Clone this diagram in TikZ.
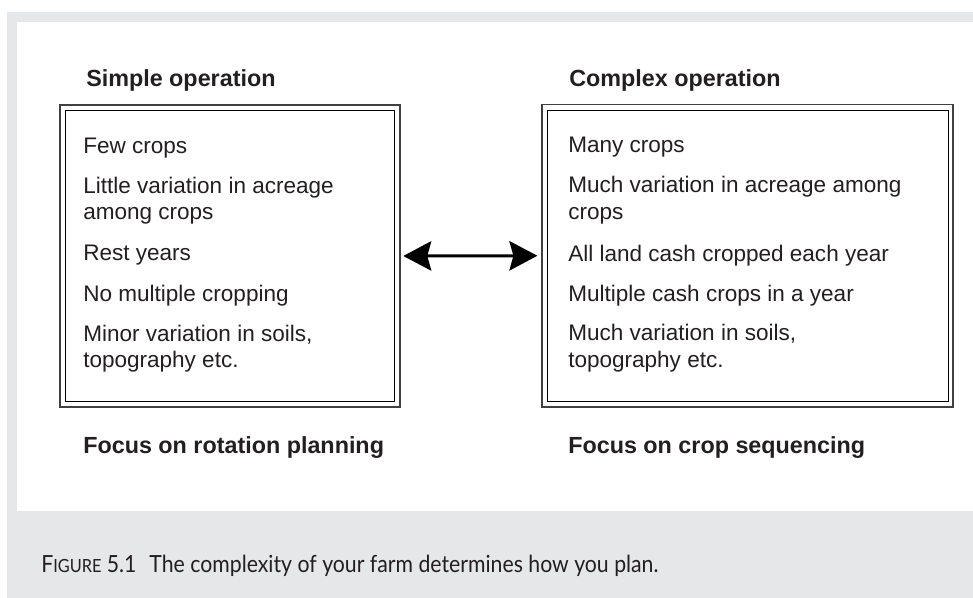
\documentclass[tikz,border=0pt]{standalone}
\usepackage{fontspec}
\setmainfont{Liberation Sans}
\newfontfamily\capfont{Lato}[FakeStretch=0.9]
\usetikzlibrary{arrows.meta,calc}
\definecolor{panelgray}{HTML}{E6E7E8}
\definecolor{ink}{HTML}{231F20}
\begin{document}
\begin{tikzpicture}[x=0.75pt,y=-0.75pt,
  hdr/.style={anchor=base west,inner sep=0,text=ink,font=\fontsize{17.5}{20}\selectfont\bfseries},
  body/.style={anchor=base west,inner sep=0,text=ink,font=\fontsize{16.9}{19.5}\selectfont},
  outerframe/.style={draw=black!75,line width=0.9pt,inner sep=0,rectangle},
  innerframe/.style={draw=black,line width=0.9pt},
  bigarrow/.style={{Stealth[length=21pt,width=22pt,inset=3pt]}-{Stealth[length=21pt,width=22pt,inset=3pt]},line width=2.2pt,black}]
\useasboundingbox (0,0) rectangle (973,598);
\fill[white] (0,0) rectangle (973,598);
\fill[panelgray] (7,12) rectangle (973,598);
\fill[white] (17,22) rectangle (973,511);

% frames
\node[outerframe,minimum width=340*0.75pt,minimum height=302*0.75pt] (L) at (230,256) {};
\node[outerframe,minimum width=411*0.75pt,minimum height=302.5*0.75pt] (R) at (747.5,255.75) {};
\draw[innerframe] ($(L.north west)+(6,6)$) rectangle ($(L.south east)+(-6,-6)$);
\draw[innerframe] ($(R.north west)+(6,6.5)$) rectangle ($(R.south east)+(-5.5,-6)$);

% headers
\node[hdr] (hL) at (86,86.5) {Simple operation};
\node[hdr] (hR) at (569,86.5) {Complex operation};

% left body
\node[body] (l1)  at (83,154)   {Few crops};
\node[body] (l2a) at (83,194)   {Little variation in acreage};
\node[body] (l2b) at (83,220)   {among crops};
\node[body] (l3)  at (83,261)   {Rest years};
\node[body] (l4)  at (83,301)   {No multiple cropping};
\node[body] (l5a) at (83,341)   {Minor variation in soils,};
\node[body] (l5b) at (83,367.5) {topography etc.};

% right body
\node[body] (r1)  at (568,153)   {Many crops};
\node[body] (r2a) at (568,193)   {Much variation in acreage among};
\node[body] (r2b) at (568,220)   {crops};
\node[body] (r3)  at (568,261.5) {All land cash cropped each year};
\node[body] (r4)  at (568,301)   {Multiple cash crops in a year};
\node[body] (r5a) at (568,340.5) {Much variation in soils,};
\node[body] (r5b) at (568,367.5) {topography etc.};

% footers
\node[hdr] (fL) at (83,453) {Focus on rotation planning};
\node[hdr] (fR) at (568,453) {Focus on crop sequencing};

% arrow
\draw[bigarrow,shorten <=2pt,shorten >=3pt] (L.east) -- (R.west);

% caption
\node[anchor=base west,inner sep=0,text=ink,font=\capfont\fontsize{17.7}{20}\selectfont] (cap) at (41,572)
  {F{\fontsize{13.6}{16}\selectfont IGURE} 5.1\hspace{0.55em}The complexity of your farm determines how you plan.};
\end{tikzpicture}
\end{document}
